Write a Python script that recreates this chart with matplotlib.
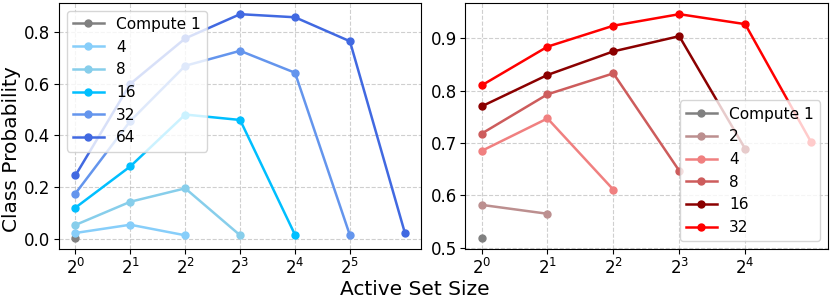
import matplotlib
matplotlib.use("Agg")
import matplotlib.pyplot as plt
from matplotlib.ticker import NullLocator

# Active set sizes (powers of two)
sizes = [1, 2, 4, 8, 16, 32, 64]

# Left panel: class probability per compute budget
left_budgets = [1, 4, 8, 16, 32, 64]
left_vals = [
    [0.003],
    [0.022, 0.054, 0.013],
    [0.053, 0.143, 0.195, 0.013],
    [0.120, 0.280, 0.481, 0.460, 0.015],
    [0.175, 0.456, 0.670, 0.728, 0.643, 0.013],
    [0.245, 0.600, 0.776, 0.870, 0.858, 0.765, 0.023],
]
left_colors = ["gray", "lightskyblue", "skyblue", "deepskyblue", "cornflowerblue", "royalblue"]

# Right panel
right_budgets = [1, 2, 4, 8, 16, 32]
right_vals = [
    [0.519],
    [0.582, 0.565],
    [0.685, 0.747, 0.611],
    [0.718, 0.793, 0.833, 0.647],
    [0.770, 0.830, 0.875, 0.904, 0.689],
    [0.810, 0.884, 0.924, 0.946, 0.927, 0.702],
]
right_colors = ["gray", "rosybrown", "lightcoral", "indianred", "darkred", "red"]

fig, axes = plt.subplots(1, 2, figsize=(8.3, 2.99), dpi=100)

for ax, budgets, vals, colors, loc, nt in [
    (axes[0], left_budgets, left_vals, left_colors, "upper left", 6),
    (axes[1], right_budgets, right_vals, right_colors, "lower right", 5),
]:
    for b, v, c in zip(budgets, vals, colors):
        ax.plot(sizes[:len(v)], v, marker="o", markersize=5, color=c, linewidth=1.8,
                label=f"Compute {b}" if b == 1 else str(b))
    ax.set_xscale("log", base=2)
    ax.set_xticks(sizes[:nt])
    ax.xaxis.set_minor_locator(NullLocator())
    ax.tick_params(labelsize=12, pad=2.5)
    ax.grid(True, linestyle="--", linewidth=0.8, alpha=0.6)
    ax.legend(loc=loc, fontsize=11.1)

fig.supylabel("Class Probability", fontsize=14.5, x=0.003, ha="left")
fig.supxlabel("Active Set Size", fontsize=14.5, y=0.0, va="bottom")

fig.subplots_adjust(left=0.071, right=0.997, top=0.99, bottom=0.167, wspace=0.121)
fig.savefig("out.png")
